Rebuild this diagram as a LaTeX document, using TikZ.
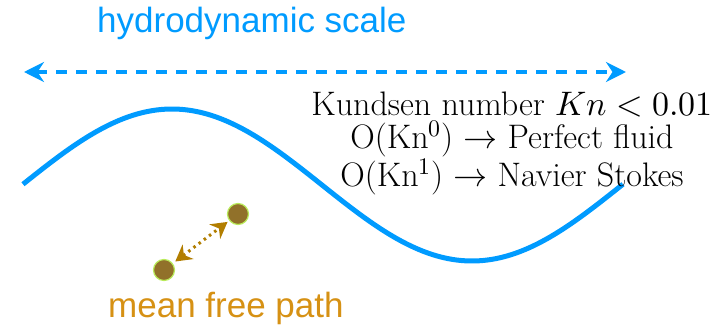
\documentclass[tikz,border=0pt]{standalone}
\usepackage{fontspec}
\usepackage{unicode-math}
\setmathfont{Latin Modern Math}
\newfontfamily\labelfont{Liberation Sans}
\usepackage{xcolor}
\definecolor{hydroblue}{RGB}{0,155,255}
\definecolor{mfpgold}{RGB}{214,145,20}
\definecolor{mfpdark}{RGB}{178,126,0}
\definecolor{dotbrown}{RGB}{145,113,42}
\definecolor{dotrim}{RGB}{185,235,90}
\usepackage{tikz}
\usetikzlibrary{arrows.meta}

\begin{document}
\begin{tikzpicture}[x=1pt, y=-1pt,
  particle/.style={circle, fill=dotbrown, draw=dotrim, line width=1.2pt, minimum size=21pt, inner sep=0pt}]
\useasboundingbox (0,0) rectangle (724,329);

% escala hidrodinamica
\node[font=\labelfont\fontsize{35}{40}\selectfont, text=hydroblue, anchor=base west, inner sep=0pt] (hydro) at (97,33) {hydrodynamic scale};
\coordinate (sl) at (24,72);
\coordinate (sr) at (626,72);
\draw[{Stealth[length=20pt,width=20pt]}-{Stealth[length=20pt,width=20pt]}, hydroblue, line width=4pt, dash pattern=on 11pt off 9pt] (sl) -- (sr);

% onda
\draw[hydroblue, line width=5pt] plot[domain=23:623, samples=100, smooth] (\x, {185-76*cos((\x-172)*0.6)});

% recorrido libre medio
\node[particle] (p1) at (164,270) {};
\node[particle] (p2) at (238,214) {};
\draw[{Stealth[length=16pt,width=18pt]}-{Stealth[length=16pt,width=18pt]}, mfpdark, line width=3pt, dash pattern=on 2.5pt off 4pt, shorten <=3pt, shorten >=2pt] (p1) -- (p2);
\node[font=\labelfont\fontsize{35}{40}\selectfont, text=mfpgold, anchor=base west, inner sep=0pt] (mfp) at (108,317) {mean free path};

% numero de Knudsen
\node[align=center, font=\fontsize{34}{33}\selectfont, anchor=north, inner sep=0pt] (kn) at (512,92) {Kundsen number $Kn<0.01$\\ O(Kn$^0$) $\rightarrow$ Perfect fluid\\ O(Kn$^1$) $\rightarrow$ Navier Stokes};
\end{tikzpicture}
\end{document}
